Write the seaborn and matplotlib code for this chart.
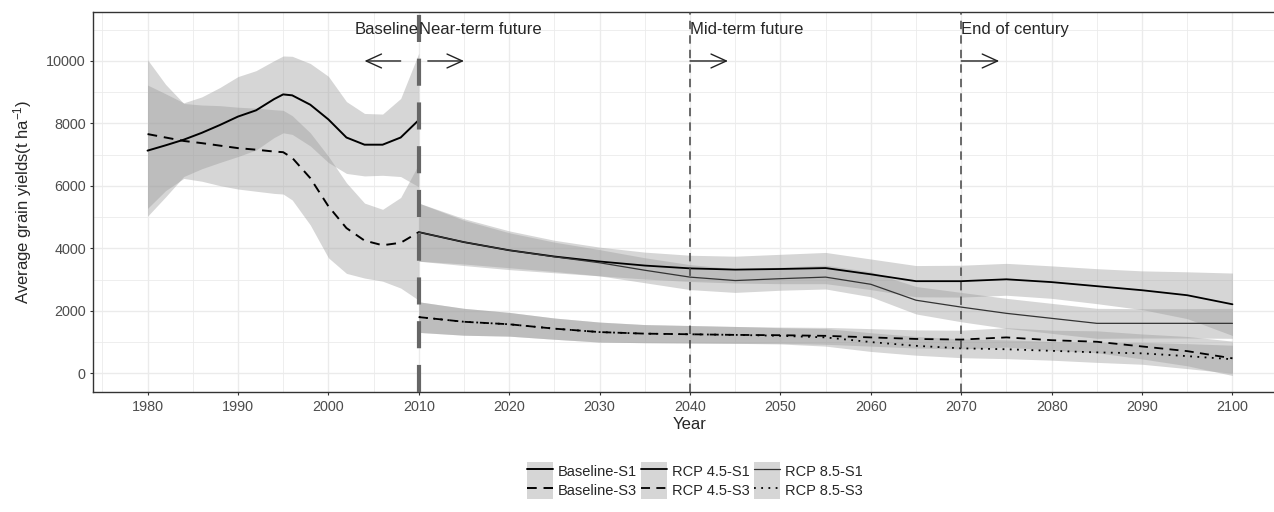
import matplotlib
matplotlib.use("Agg")
import matplotlib.pyplot as plt
import matplotlib.patches as mpatches
from matplotlib.lines import Line2D
from matplotlib.legend_handler import HandlerTuple
import seaborn as sns
import pandas as pd

# ---------------- data ----------------
base_years = [1980, 1982, 1984, 1986, 1988, 1990, 1992, 1994, 1995, 1996,
              1998, 2000, 2002, 2004, 2006, 2008, 2010]

base_s1_fit = [7130, 7300, 7480, 7700, 7950, 8220, 8420, 8780, 8930, 8900,
               8600, 8130, 7550, 7320, 7320, 7550, 8110]
base_s1_upper = [9230, 8950, 8660, 8850, 9150, 9500, 9690, 10010, 10160, 10150,
                 9920, 9510, 8700, 8320, 8300, 8800, 10250]
base_s1_lower = [5030, 5650, 6300, 6550, 6750, 6940, 7150, 7550, 7700, 7650,
                 7280, 6750, 6400, 6320, 6340, 6300, 5970]

base_s3_fit = [7660, 7550, 7440, 7370, 7290, 7210, 7160, 7100, 7080, 6900,
               6250, 5350, 4650, 4250, 4100, 4180, 4520]
base_s3_upper = [10040, 9250, 8640, 8590, 8570, 8520, 8490, 8440, 8420, 8250,
                 7700, 6950, 6100, 5450, 5250, 5630, 6700]
base_s3_lower = [5280, 5850, 6240, 6150, 6010, 5900, 5830, 5760, 5740, 5550,
                 4750, 3700, 3200, 3050, 2950, 2730, 2340]

fut_years = [2010, 2015, 2020, 2025, 2030, 2035, 2040, 2045, 2050, 2055,
             2060, 2065, 2070, 2075, 2080, 2085, 2090, 2095, 2100]

r45_s1_fit = [4520, 4200, 3940, 3740, 3580, 3450, 3360, 3320, 3340, 3370,
              3170, 2950, 2950, 3010, 2920, 2790, 2660, 2500, 2210]
r45_s1_upper = [5450, 4950, 4560, 4260, 4040, 3880, 3780, 3750, 3810, 3870,
                3660, 3450, 3460, 3520, 3440, 3350, 3280, 3250, 3210]
r45_s1_lower = [3590, 3450, 3320, 3220, 3120, 3020, 2940, 2890, 2870, 2870,
                2680, 2450, 2440, 2500, 2400, 2230, 2040, 1750, 1210]

r85_s1_fit = [4520, 4200, 3940, 3730, 3540, 3300, 3080, 2970, 3030, 3080,
              2850, 2340, 2120, 1920, 1760, 1600, 1600, 1600, 1600]
r85_s1_upper = [5450, 4900, 4500, 4200, 3960, 3700, 3480, 3350, 3400, 3460,
                3250, 2780, 2590, 2400, 2240, 2080, 2070, 2070, 2080]
r85_s1_lower = [3590, 3500, 3380, 3260, 3120, 2900, 2680, 2590, 2660, 2700,
                2450, 1900, 1650, 1440, 1280, 1120, 1130, 1130, 1120]

r45_s3_fit = [1800, 1650, 1570, 1430, 1320, 1270, 1250, 1230, 1220, 1200,
              1150, 1100, 1080, 1150, 1060, 1010, 860, 710, 480]
r45_s3_upper = [2290, 2080, 1950, 1770, 1640, 1560, 1530, 1500, 1480, 1470,
                1430, 1390, 1380, 1460, 1380, 1360, 1260, 1180, 1030]
r45_s3_lower = [1310, 1220, 1190, 1090, 1000, 980, 970, 960, 960, 930,
                870, 810, 780, 840, 740, 660, 460, 240, -70]

r85_s3_fit = [1800, 1650, 1570, 1430, 1320, 1270, 1250, 1230, 1200, 1150,
              1000, 880, 800, 770, 720, 670, 640, 550, 450]
r85_s3_upper = [2290, 2080, 1950, 1770, 1640, 1560, 1530, 1500, 1460, 1430,
                1300, 1180, 1100, 1070, 1020, 990, 990, 950, 900]
r85_s3_lower = [1310, 1220, 1190, 1090, 1000, 980, 970, 960, 940, 870,
                700, 580, 500, 470, 420, 350, 290, 150, 0]

series_labels = ["Baseline-S1", "Baseline-S3", "RCP 4.5-S1",
                 "RCP 4.5-S3", "RCP 8.5-S1", "RCP 8.5-S3"]

period_lines = [2010, 2040, 2070]
period_texts = ["Near-term future", "Mid-term future", "End of century"]

# ---------------- style ----------------
sns.set_style("white")
plt.rcParams["font.family"] = ["Liberation Sans", "DejaVu Sans"]
plt.rcParams["mathtext.fontset"] = "custom"
plt.rcParams["mathtext.rm"] = "Liberation Sans"
plt.rcParams["mathtext.it"] = "Liberation Sans:italic"
plt.rcParams["mathtext.default"] = "regular"

W, H = 1274, 512
fig = plt.figure(figsize=(W / 100, H / 100), dpi=100)
ax = fig.add_axes([93.3 / W, 1 - 392.3 / H, (1286.7 - 93.3) / W, (392.3 - 11.7) / H])

RIB = "#999999"
RIB_A = 0.4

series = [
    (base_years, base_s1_fit, base_s1_lower, base_s1_upper, dict(color="black", lw=1.4, linestyle="-")),
    (base_years, base_s3_fit, base_s3_lower, base_s3_upper, dict(color="black", lw=1.4, linestyle=(0, (5, 3.5)))),
    (fut_years, r45_s1_fit, r45_s1_lower, r45_s1_upper, dict(color="black", lw=1.3, linestyle="-")),
    (fut_years, r45_s3_fit, r45_s3_lower, r45_s3_upper, dict(color="black", lw=1.3, linestyle=(0, (5, 3.5)))),
    (fut_years, r85_s1_fit, r85_s1_lower, r85_s1_upper, dict(color="#333333", lw=0.9, linestyle="-")),
    (fut_years, r85_s3_fit, r85_s3_lower, r85_s3_upper, dict(color="black", lw=1.3, linestyle=(0, (1, 3)))),
]

for yrs, fit, lo, up, st in series:
    ax.fill_between(yrs, lo, up, color=RIB, alpha=RIB_A, lw=0, zorder=1)

for (yrs, fit, lo, up, st), lab in zip(series, series_labels):
    df = pd.DataFrame({"Year": yrs, "val": fit})
    sns.lineplot(data=df, x="Year", y="val", ax=ax, estimator=None, sort=False,
                 color=st["color"], lw=st["lw"], linestyle=st["linestyle"],
                 legend=False, zorder=3)

# period lines
ax.axvline(period_lines[0], color="#666666", lw=3.0, linestyle=(0, (6.5, 4)), zorder=4)
for x in period_lines[1:]:
    ax.axvline(x, color="#444444", lw=1.1, linestyle=(0, (5.5, 4)), zorder=4)

# annotations
ax.text(2010, 11000, "Baseline", ha="right", va="center", fontsize=12, zorder=5)
for x, t in zip(period_lines, period_texts):
    ax.text(x, 11000, t, ha="left", va="center", fontsize=12, zorder=5)

arrow_kw = dict(arrowstyle="->,head_length=1.1,head_width=0.5", lw=1.0, color="#222222",
                shrinkA=0, shrinkB=0, mutation_scale=10)
ax.annotate("", xy=(2004.0, 10000), xytext=(2008.0, 10000), arrowprops=arrow_kw, zorder=5)
ax.annotate("", xy=(2015.0, 10000), xytext=(2011.0, 10000), arrowprops=arrow_kw, zorder=5)
ax.annotate("", xy=(2044.2, 10000), xytext=(2040.0, 10000), arrowprops=arrow_kw, zorder=5)
ax.annotate("", xy=(2074.2, 10000), xytext=(2070.0, 10000), arrowprops=arrow_kw, zorder=5)

# axes
ax.set_xlim(1974, 2106)
ax.set_ylim(-608, 11578)
ax.set_xticks(list(range(1980, 2101, 10)))
ax.set_xticks(list(range(1975, 2106, 10)), minor=True)
ax.set_yticks(list(range(0, 10001, 2000)))
ax.set_yticks(list(range(1000, 11001, 2000)), minor=True)
ax.grid(which="major", color="#ebebeb", lw=1.0, zorder=0)
ax.grid(which="minor", color="#ebebeb", lw=0.6, zorder=0)
ax.set_axisbelow(True)
ax.tick_params(which="major", direction="out", length=2.4, width=0.8, color="#333333",
               labelsize=10.4, labelcolor="#4d4d4d", pad=3, bottom=True, left=True)
ax.tick_params(which="minor", length=0, bottom=False, left=False)
for s in ax.spines.values():
    s.set_color("#333333")
    s.set_linewidth(1.0)
ax.spines["right"].set_visible(False)

ax.set_xlabel("Year", fontsize=12, labelpad=2.5)
ax.set_ylabel("Average grain yields(t ha$^{-1}$)", fontsize=12, labelpad=9)

# legend
handles = []
for (yrs, fit, lo, up, st) in series:
    p = mpatches.Patch(facecolor=RIB, alpha=RIB_A, edgecolor="none")
    l = Line2D([], [], color=st["color"], lw=st["lw"], linestyle=st["linestyle"])
    handles.append((p, l))
fs = 10.5
px_em = fs * 100 / 72
fig.legend(handles, series_labels, ncol=3, loc="upper left",
           bbox_to_anchor=(527 / W, 1 - 462 / H), frameon=False, fontsize=fs,
           handlelength=26 / px_em, handleheight=23 / px_em, labelspacing=0,
           columnspacing=4 / px_em, handletextpad=5 / px_em, borderpad=0, borderaxespad=0,
           handler_map={tuple: HandlerTuple(ndivide=1)})

fig.savefig("out.png", dpi=100)
